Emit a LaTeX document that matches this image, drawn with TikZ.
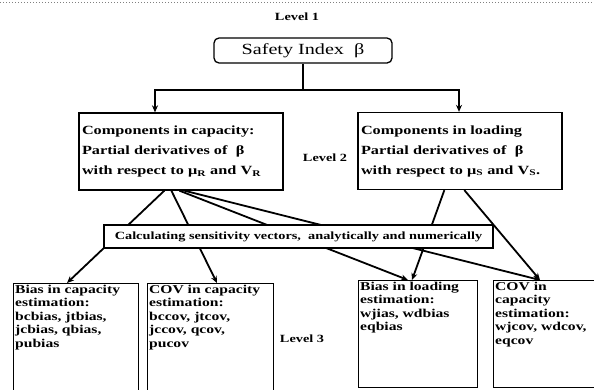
\documentclass[tikz,border=0pt]{standalone}
\usepackage{fontspec}
\setmainfont[FakeStretch=1.3]{Liberation Serif}
\usetikzlibrary{arrows.meta}
\begin{document}
\begin{tikzpicture}[x=1pt,y=-1pt,
  box/.style={draw, line width=1.3pt, inner sep=0pt},
  conn/.style={line width=1.8pt, -{Stealth[length=7pt,width=6pt]}},
  lvl/.style={font=\bfseries\fontsize{11}{13}\selectfont, inner sep=0pt},
  midtxt/.style={font=\bfseries\fontsize{12.5}{20}\selectfont, align=left, text width=198pt},
  txt/.style={font=\bfseries\fontsize{12}{13.4}\selectfont, align=left, anchor=north west, inner sep=0pt},
]
\useasboundingbox (0,0) rectangle (594,389);
\clip (0,0) rectangle (594,389);
\draw[gray, dotted, line width=1pt] (0,2) -- (594,2);
\node[lvl] (lv1) at (297,17) {Level 1};
\node[draw, line width=1.3pt, rounded corners=5pt, minimum width=178pt, minimum height=25pt, inner sep=0pt, font=\fontsize{15.5}{18}\selectfont] (S) at (303,50.5) {Safety Index \ β};
\node[box, midtxt, minimum width=204pt, minimum height=77pt] (L) at (181,151.5) {Components in capacity:\\ Partial derivatives of \ β\\ with respect to μ\textsubscript{R} and V\textsubscript{R}};
\node[box, midtxt, minimum width=204pt, minimum height=77pt] (R) at (460,151) {Components in loading\\ Partial derivatives of \ β\\ with respect to μ\textsubscript{S} and V\textsubscript{S}.};
\node[lvl] (lv2) at (325,158) {Level 2};
\node[lvl] (lv3) at (302,339) {Level 3};
% bottom boxes
\node[box, minimum width=125pt, minimum height=115pt, anchor=north west] (A) at (13,283) {};
\node[box, minimum width=126pt, minimum height=115pt, anchor=north west] (B) at (147,283) {};
\node[box, minimum width=119pt, minimum height=107pt, anchor=north west] (C) at (358,280) {};
\node[box, minimum width=105pt, minimum height=107pt, anchor=north west] (D) at (493,280) {};
\node[txt] (tA) at (15,285) {Bias in capacity\\estimation:\\bcbias, jtbias,\\jcbias, qbias,\\pubias};
\node[txt] (tB) at (149,285) {COV in capacity\\estimation:\\bccov, jtcov,\\jccov, qcov,\\pucov};
\node[txt] (tC) at (360,282) {Bias in loading\\estimation:\\wjias, wdbias\\eqbias};
\node[txt] (tD) at (495,282) {COV in\\capacity\\estimation:\\wjcov, wdcov,\\eqcov};
% top connectors
\coordinate (jL) at (155,90);
\draw[line width=1.5pt] (S.south) -- (S.south |- jL);
\draw[conn, line width=1.5pt] (S.south |- jL) -| ([xshift=-26pt]L.north);
\draw[conn, line width=1.5pt] (S.south |- jL) -| ([xshift=-1pt]R.north);
% lower connectors
\draw[conn] ([xshift=86pt]L.south west) -- ([xshift=54pt]A.north west);
\draw[conn] ([xshift=93pt]L.south west) -- ([xshift=70pt]B.north west);
\draw[conn] ([xshift=101pt]L.south west) -- ([xshift=50pt]C.north west);
\draw[conn] ([xshift=106pt]L.south west) -- ([xshift=47pt]D.north west);
\draw[conn] ([xshift=87pt]R.south west) -- ([xshift=54pt]C.north west);
\draw[conn] ([xshift=107pt]R.south west) -- ([xshift=47pt]D.north west);
\node[box, fill=white, minimum width=389pt, minimum height=23pt, font=\bfseries\fontsize{11}{13}\selectfont] (calc) at (298.5,236.5) {Calculating sensitivity vectors, \ analytically and numerically};
\end{tikzpicture}
\end{document}
